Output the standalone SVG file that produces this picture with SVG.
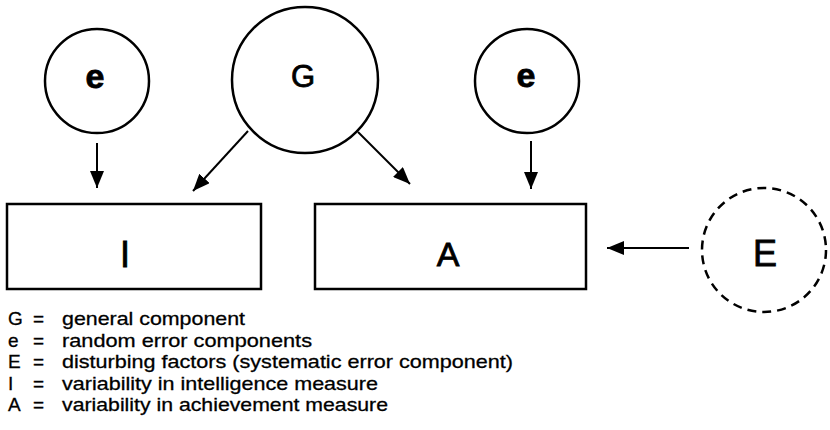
<svg xmlns="http://www.w3.org/2000/svg" width="830" height="430" viewBox="0 0 830 430">
<defs>
<style>
.node{fill:none;stroke:#000;stroke-width:2.5}
.dash{fill:none;stroke:#000;stroke-width:2.5;stroke-dasharray:9,6}
.lbl{font-family:"Liberation Sans",Arial,sans-serif;fill:#000;stroke:#000;stroke-width:0.8;text-anchor:middle}
.edge{stroke:#000;stroke-width:2;fill:none;marker-end:url(#ah)}
.leg{font-family:"Liberation Sans",Arial,sans-serif;font-size:19px;fill:#000;stroke:#000;stroke-width:0.3}
</style>
<marker id="ah" markerUnits="userSpaceOnUse" markerWidth="18" markerHeight="14" refX="17" refY="7" orient="auto">
<path d="M0,0 L17,7 L0,14 z" fill="#000"/>
</marker>
</defs>
<rect width="830" height="430" fill="#fff"/>
<g id="node-e1">
<circle class="node" cx="97" cy="81" r="52"/>
<text class="lbl" x="95" y="88" font-size="34" font-weight="bold" stroke-width="0">e</text>
</g>
<g id="node-G">
<circle class="node" cx="305" cy="80" r="73"/>
<text class="lbl" x="303" y="87" font-size="31">G</text>
</g>
<g id="node-e2">
<circle class="node" cx="527" cy="81" r="52"/>
<text class="lbl" x="526" y="87" font-size="34" font-weight="bold" stroke-width="0">e</text>
</g>
<g id="node-I">
<rect class="node" x="7" y="204" width="254" height="85"/>
<text class="lbl" x="125" y="267" font-size="36">I</text>
</g>
<g id="node-A">
<rect class="node" x="315" y="204" width="271" height="85"/>
<text class="lbl" x="448" y="266" font-size="34">A</text>
</g>
<g id="node-E">
<circle class="dash" cx="764" cy="250" r="62"/>
<text class="lbl" x="765" y="266" font-size="36">E</text>
</g>
<g id="connectors">
<line class="edge" x1="97" y1="143" x2="97" y2="188"/>
<line class="edge" x1="248" y1="131" x2="193" y2="191"/>
<line class="edge" x1="358" y1="132" x2="410" y2="184"/>
<line class="edge" x1="531" y1="141" x2="531" y2="189"/>
<line class="edge" x1="689" y1="248" x2="607" y2="248"/>
</g>
<g id="legend">
<text class="leg" x="8" y="325">G</text><text class="leg" x="33" y="325">=</text><text class="leg" x="62" y="325" textLength="183" lengthAdjust="spacingAndGlyphs">general component</text>
<text class="leg" x="8" y="347">e</text><text class="leg" x="33" y="347">=</text><text class="leg" x="62" y="347" textLength="250" lengthAdjust="spacingAndGlyphs">random error components</text>
<text class="leg" x="8" y="368">E</text><text class="leg" x="33" y="368">=</text><text class="leg" x="62" y="368" textLength="451" lengthAdjust="spacingAndGlyphs">disturbing factors (systematic error component)</text>
<text class="leg" x="8" y="390">I</text><text class="leg" x="33" y="390">=</text><text class="leg" x="62" y="390" textLength="316" lengthAdjust="spacingAndGlyphs">variability in intelligence measure</text>
<text class="leg" x="8" y="411">A</text><text class="leg" x="33" y="411">=</text><text class="leg" x="62" y="411" textLength="326" lengthAdjust="spacingAndGlyphs">variability in achievement measure</text>
</g>
</svg>
